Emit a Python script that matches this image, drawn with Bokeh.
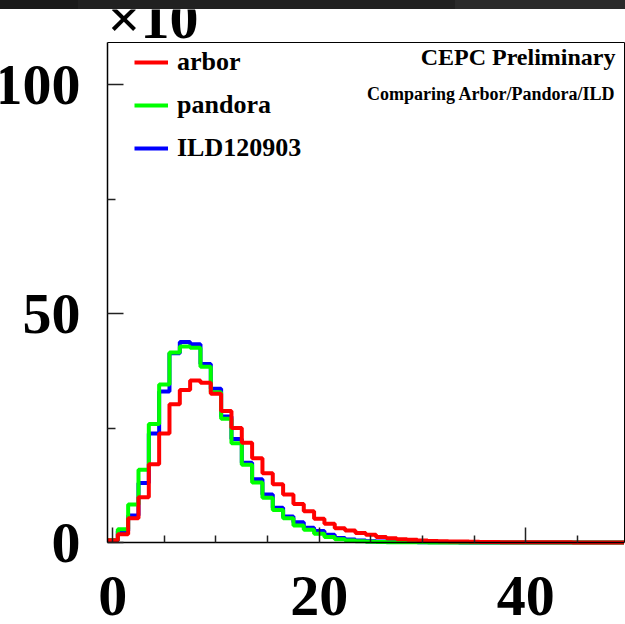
import numpy as np
from bokeh.plotting import figure
from bokeh.layouts import column
from bokeh.models import (Range1d, FixedTicker, Label, Legend, LegendItem, Div,
                          LinearAxis)
from bokeh.embed import file_html
from bokeh.resources import INLINE

# Histogram contents (units of 10^3 entries), one bin per integer from 0 to 49
arbor = [0.5, 1.8, 5.3, 9.9, 17.1, 23.8, 30.2, 33.3, 35.4, 34.9,
         32.5, 28.7, 25.0, 21.8, 18.4, 15.1, 12.7, 10.5, 8.4, 6.8,
         5.2, 4.1, 3.1, 2.6, 2.1, 1.7, 1.2, 0.95, 0.7, 0.6,
         0.45, 0.35, 0.3, 0.22, 0.2, 0.15, 0.12, 0.1, 0.08, 0.07,
         0.06, 0.05, 0.05, 0.04, 0.04, 0.03, 0.03, 0.03, 0.02, 0.02]
pandora = [0.5, 2.9, 8.3, 15.9, 25.9, 34.5, 41.5, 42.8, 42.5, 38.4,
           32.8, 27.0, 21.7, 17.0, 13.1, 9.8, 7.1, 5.3, 3.7, 2.8,
           1.9, 1.2, 0.7, 0.45, 0.3, 0.15, 0.1, 0.08, 0.06, 0.05,
           0.04, 0.03, 0.02, 0.02, 0.01, 0.01, 0.01, 0.0, 0.0, 0.0,
           0.0, 0.0, 0.0, 0.0, 0.0, 0.0, 0.0, 0.0, 0.0, 0.0]
ild = [0.4, 2.5, 5.9, 13.0, 23.8, 33.0, 41.3, 43.8, 43.3, 39.0,
       33.6, 27.5, 22.6, 17.4, 13.8, 10.5, 7.6, 5.7, 4.4, 3.2,
       2.5, 1.7, 1.0, 0.65, 0.45, 0.3, 0.22, 0.16, 0.12, 0.1,
       0.08, 0.06, 0.05, 0.04, 0.03, 0.03, 0.02, 0.02, 0.02, 0.01,
       0.01, 0.01, 0.01, 0.01, 0.01, 0.0, 0.0, 0.0, 0.0, 0.0]

series_names = ["arbor", "pandora", "ILD120903"]
series_colors = ["#ff0000", "#00ff00", "#0000ff"]

x_major = [0, 20, 40]
x_minor = [5, 10, 15, 25, 30, 35, 45]
y_major = [0, 50, 100]
y_minor = [25, 75]

X_LO, X_HI = -0.5, 49.5        # histogram axis limits
Y_LO, Y_HI = 0.0, 109.17       # counts axis limits

FONT = "Liberation Serif"

# The plotting area spans the whole canvas; the drawn frame is made of
# axes pinned at the histogram limits.
p = figure(width=625, height=615, output_backend="svg", toolbar_location=None,
           x_range=Range1d(-10.858, 49.645), y_range=Range1d(-17.90, 116.38),
           min_border=0, min_border_left=0, min_border_right=0,
           min_border_top=0, min_border_bottom=0)
p.background_fill_color = "white"
p.border_fill_color = "white"
p.outline_line_color = None
p.grid.visible = False

xa = p.xaxis[0]
ya = p.yaxis[0]
xa.fixed_location = Y_LO
xa.bounds = (X_LO, X_HI)
ya.fixed_location = X_LO
ya.bounds = (Y_LO, Y_HI)
xa.ticker = FixedTicker(ticks=x_major, minor_ticks=x_minor)
ya.ticker = FixedTicker(ticks=y_major, minor_ticks=y_minor)
for ax in (xa, ya):
    ax.major_tick_out = 0
    ax.minor_tick_out = 0
    ax.axis_line_width = 1.5
    ax.major_tick_line_width = 1.5
    ax.minor_tick_line_width = 1.5
    ax.axis_line_color = "black"
    ax.major_tick_line_color = "#222222"
    ax.minor_tick_line_color = "#222222"
    ax.major_label_text_font = FONT
    ax.major_label_text_font_style = "bold"
    ax.major_label_text_font_size = "58px"
    ax.major_label_text_color = "black"
xa.major_tick_in = 15
xa.minor_tick_in = 7
ya.major_tick_in = 16
ya.minor_tick_in = 8
xa.major_label_standoff = 34
ya.major_label_standoff = 27

# top and right edges of the frame
top_ax = LinearAxis(fixed_location=Y_HI, bounds=(X_LO, X_HI),
                    ticker=FixedTicker(ticks=[]), major_label_text_font_size="0px",
                    axis_line_color="black", axis_line_width=1)
right_ax = LinearAxis(fixed_location=X_HI, bounds=(Y_LO, Y_HI),
                      ticker=FixedTicker(ticks=[]), major_label_text_font_size="0px",
                      axis_line_color="black", axis_line_width=1)
p.add_layout(top_ax, "above")
p.add_layout(right_ax, "right")

# histograms as step outlines over bin edges
edges = np.arange(len(arbor) + 1) - 0.5
renderers = {}
for name, vals, color in [("ILD120903", ild, series_colors[2]),
                          ("pandora", pandora, series_colors[1]),
                          ("arbor", arbor, series_colors[0])]:
    yv = list(vals) + [vals[-1]]
    renderers[name] = p.step(edges, yv, mode="after", line_color=color,
                             line_width=4)

# legend box (location is its bottom-left corner)
legend = Legend(items=[LegendItem(label=n, renderers=[renderers[n]])
                       for n in series_names],
                location=(134, 460), orientation="vertical",
                padding=7, spacing=11, margin=0,
                glyph_width=34, glyph_height=32, label_height=32,
                label_width=149, label_standoff=9,
                label_text_font=FONT, label_text_font_style="bold",
                label_text_font_size="26px", label_text_color="black",
                background_fill_color="white", background_fill_alpha=1.0,
                border_line_color=None)
p.add_layout(legend)

# axis exponent above the frame
p.add_layout(Label(x=X_LO, y=Y_HI, y_offset=24, text="\u00d710",
                   text_align="left", text_baseline="middle",
                   text_font=FONT, text_font_style="bold",
                   text_font_size="58px", text_color="black"))

# header texts
p.add_layout(Label(x=X_HI, y=Y_HI, x_offset=-8.5, y_offset=-14,
                   text="CEPC Preliminary", text_align="right",
                   text_baseline="middle", text_font=FONT,
                   text_font_style="bold", text_font_size="24px",
                   text_color="black"))
p.add_layout(Label(x=X_HI, y=Y_HI, x_offset=-8.5, y_offset=-51,
                   text="Comparing Arbor/Pandora/ILD", text_align="right",
                   text_baseline="middle", text_font=FONT,
                   text_font_style="bold", text_font_size="18px",
                   text_color="black"))

band = Div(text="", width=625, height=9, margin=0,
           styles={"background": "linear-gradient(to right, #1a1a1a 0px, #1a1a1a 78px, "
                                 "#212121 78px, #212121 455px, #2b2b2b 455px, #2b2b2b 625px)"})

layout = column(band, p, spacing=0)
open("out.html", "w").write(file_html(layout, INLINE))
